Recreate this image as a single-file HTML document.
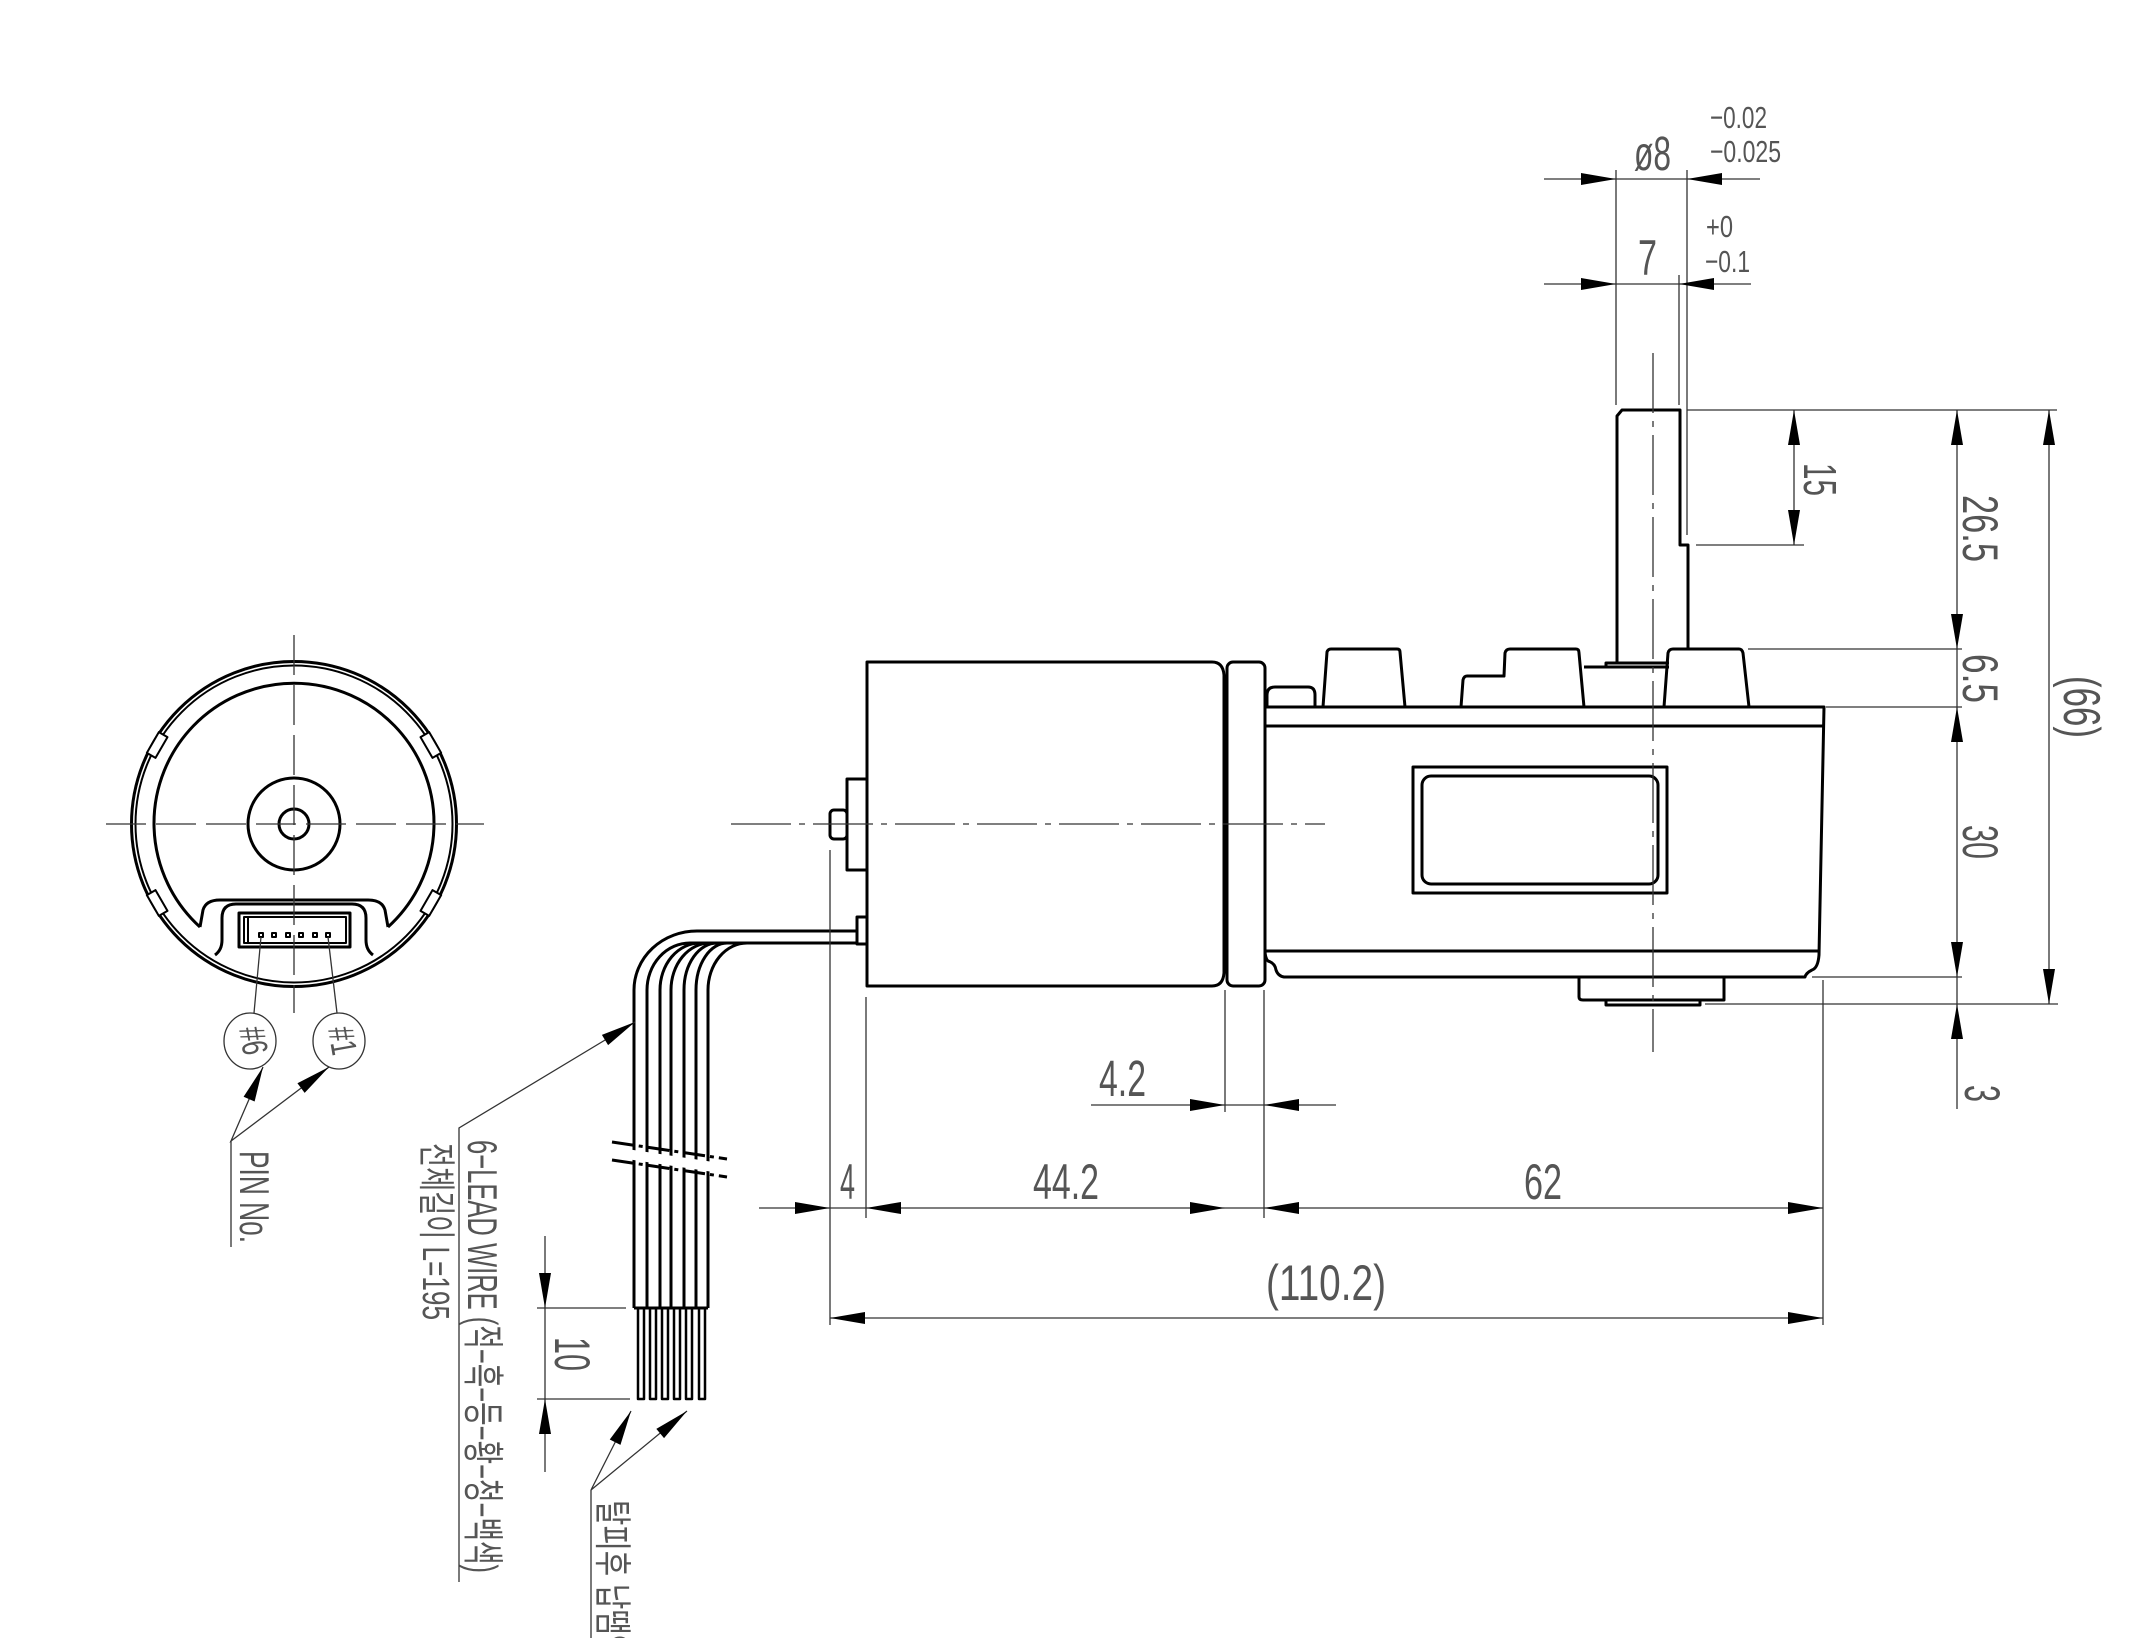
<!DOCTYPE html>
<html><head><meta charset="utf-8"><style>
html,body{margin:0;padding:0;background:#fff}
svg{display:block}
text{font-family:"Liberation Sans Narrow","Liberation Sans","Noto Sans CJK KR",sans-serif;fill:#555}
.k{font-family:"Liberation Sans","Noto Sans CJK KR",sans-serif}
</style></head><body>
<svg width="2139" height="1638" viewBox="0 0 2139 1638" xmlns="http://www.w3.org/2000/svg">
<defs>
<g id="ar"><polygon points="0,0 -35,-6 -35,6" fill="#000"/></g>
</defs>
<g fill="none" stroke="#000" stroke-width="3" stroke-linejoin="round">
<!-- end view -->
<circle cx="294" cy="824" r="162.5"/>
<circle cx="294" cy="824" r="158.5" stroke-width="2"/>
<path d="M200,927 A140,140 0 1 1 388,927"/>
<path d="M200,927 L203,910 Q206,900 220,900 H368 Q382,900 385,910 L388,927"/>
<path d="M215,955 Q222,950 222,940 V918 Q222,904 236,904 H352 Q366,904 366,918 V940 Q366,950 373,955"/>
<circle cx="294" cy="824" r="46"/>
<circle cx="294" cy="824" r="15"/>
<rect x="239" y="913" width="111" height="34"/>
<rect x="244" y="917" width="102" height="26" stroke-width="2"/>
<line x1="248" y1="917" x2="248" y2="943" stroke-width="2"/>
<g stroke-width="2">
<rect x="259" y="933" width="4" height="4"/><rect x="272" y="933" width="4" height="4"/><rect x="286" y="933" width="4" height="4"/><rect x="299" y="933" width="4" height="4"/><rect x="313" y="933" width="4" height="4"/><rect x="326" y="933" width="4" height="4"/>
<g transform="rotate(30 294 824)"><rect x="131" y="812" width="10" height="24" fill="#fff"/></g>
<g transform="rotate(-30 294 824)"><rect x="131" y="812" width="10" height="24" fill="#fff"/></g>
<g transform="rotate(150 294 824)"><rect x="131" y="812" width="10" height="24" fill="#fff"/></g>
<g transform="rotate(-150 294 824)"><rect x="131" y="812" width="10" height="24" fill="#fff"/></g>
</g>

<!-- motor -->
<path d="M867,662 H1212 Q1223,662 1224,675 V973 Q1223,986 1212,986 H867 Z"/>
<rect x="1227" y="662" width="38" height="324" rx="6"/>
<rect x="847" y="779" width="20" height="91"/>
<rect x="830" y="810" width="17" height="29" rx="4"/>
<rect x="857" y="917" width="10" height="27"/>
<!-- gearbox -->
<path d="M1265,707 H1824 L1819,955 Q1818,968 1812,970 Q1806,973 1805,977 H1284 Q1278,976 1276,970 Q1275,963 1268,961 Q1265,958 1265,950 Z"/>
<line x1="1265" y1="726" x2="1824" y2="726"/>
<line x1="1265" y1="951" x2="1818" y2="951"/>
<rect x="1413" y="767" width="254" height="126"/>
<rect x="1422" y="776" width="236" height="108" rx="9"/>
<path d="M1267,707 V695 Q1267,687 1275,687 H1308 Q1315,687 1315,695 V707"/>
<path d="M1323,707 L1327,652 Q1328,649 1331,649 H1397 Q1400,649 1400,652 L1405,707"/>
<path d="M1461,707 L1463,680 Q1464,676 1467,676 H1504 L1505,653 Q1506,649 1510,649 H1576 Q1579,649 1579,653 L1584,707"/>
<path d="M1584,667 H1669"/>
<path d="M1664,707 L1668,653 Q1669,649 1673,649 H1739 Q1742,649 1743,653 L1749,707"/>
<path d="M1617,663 V416 L1622,410 H1680 V545 H1688 V649"/>
<path d="M1606,667 V663 H1669"/>
<path d="M1579,977 V997 Q1579,1000 1583,1000 H1724 V977"/>
<path d="M1606,1000 V1005 H1700 V1000"/>
<!-- wires -->
<path d="M634,1308 V990 A63,59 0 0 1 697,931 H857"/>
<path d="M647,1308 V990 A43,47 0 0 1 690,943 H857"/>
<path d="M660,1308 V990 A40,47 0 0 1 700,943"/>
<path d="M671,1308 V990 A39,47 0 0 1 710,943"/>
<path d="M684,1308 V990 A33,47 0 0 1 717,943"/>
<path d="M696,1308 V990 A31,47 0 0 1 727,943"/>
<path d="M708,1308 V990 A39,47 0 0 1 747,943"/>
<line x1="634" y1="1308" x2="708" y2="1308"/>
<g stroke-width="2.5">
<rect x="638" y="1308" width="6" height="91"/><rect x="650" y="1308" width="6" height="91"/><rect x="662" y="1308" width="6" height="91"/><rect x="674" y="1308" width="6" height="91"/><rect x="686" y="1308" width="6" height="91"/><rect x="699" y="1308" width="6" height="91"/>
</g>
</g>
<polygon points="600,1145 740,1166 740,1176 600,1155" fill="#fff"/>
<g stroke="#000" stroke-width="3" stroke-dasharray="22,5,4,5">
<line x1="612" y1="1142" x2="727" y2="1159"/>
<line x1="612" y1="1160" x2="727" y2="1177"/>
</g>

<!-- thin lines -->
<g fill="none" stroke="#333" stroke-width="1.3">
<line x1="106" y1="824" x2="484" y2="824" stroke-dasharray="40,10"/>
<line x1="294" y1="635" x2="294" y2="1013" stroke-dasharray="40,10"/>
<line x1="731" y1="824" x2="1325" y2="824" stroke-dasharray="60,8,6,8"/>
<line x1="1653" y1="353" x2="1653" y2="1052" stroke-dasharray="60,8,6,8"/>
<!-- pin leaders -->
<line x1="261" y1="937" x2="254" y2="1013"/>
<line x1="328" y1="937" x2="337" y2="1013"/>
<ellipse cx="250" cy="1041" rx="26" ry="28"/>
<ellipse cx="339" cy="1041" rx="26" ry="28"/>
<polyline points="263,1067 231,1141 329,1067"/>
<line x1="231" y1="1141" x2="231" y2="1247"/>
<polyline points="635,1022 459,1128 459,1582"/>
<polyline points="631,1411 591,1490 687,1411"/>
<line x1="591" y1="1490" x2="591" y2="1638"/>
<!-- 10 dim -->
<line x1="545" y1="1236" x2="545" y2="1472"/>
<line x1="537" y1="1308" x2="626" y2="1308"/>
<line x1="537" y1="1399" x2="630" y2="1399"/>
<!-- top dims -->
<line x1="1544" y1="179" x2="1760" y2="179"/>
<line x1="1544" y1="284" x2="1751" y2="284"/>
<line x1="1616" y1="170" x2="1616" y2="405"/>
<line x1="1687" y1="170" x2="1687" y2="535"/>
<line x1="1679" y1="275" x2="1679" y2="405"/>
<line x1="1687" y1="410" x2="2057" y2="410"/>
<line x1="1696" y1="545" x2="1804" y2="545"/>
<line x1="1794" y1="410" x2="1794" y2="545"/>
<line x1="1748" y1="649" x2="1962" y2="649"/>
<line x1="1826" y1="707" x2="1962" y2="707"/>
<line x1="1812" y1="977" x2="1962" y2="977"/>
<line x1="1705" y1="1004" x2="2058" y2="1004"/>
<line x1="1957" y1="410" x2="1957" y2="1109"/>
<line x1="2049" y1="410" x2="2049" y2="1004"/>
<!-- bottom dims -->
<line x1="830" y1="850" x2="830" y2="1325"/>
<line x1="866" y1="997" x2="866" y2="1218"/>
<line x1="1225" y1="990" x2="1225" y2="1112"/>
<line x1="1264" y1="990" x2="1264" y2="1218"/>
<line x1="1823" y1="980" x2="1823" y2="1325"/>
<line x1="759" y1="1208" x2="1823" y2="1208"/>
<line x1="1091" y1="1105" x2="1336" y2="1105"/>
<line x1="830" y1="1318" x2="1823" y2="1318"/>
</g>
<!-- arrows -->
<use href="#ar" transform="translate(1616,179)"/>
<use href="#ar" transform="translate(1687,179) rotate(180)"/>
<use href="#ar" transform="translate(1616,284)"/>
<use href="#ar" transform="translate(1679,284) rotate(180)"/>
<use href="#ar" transform="translate(1794,410) rotate(-90)"/>
<use href="#ar" transform="translate(1794,545) rotate(90)"/>
<use href="#ar" transform="translate(1957,410) rotate(-90)"/>
<use href="#ar" transform="translate(1957,649) rotate(90)"/>
<use href="#ar" transform="translate(1957,707) rotate(-90)"/>
<use href="#ar" transform="translate(1957,977) rotate(90)"/>
<use href="#ar" transform="translate(1957,1004) rotate(-90)"/>
<use href="#ar" transform="translate(2049,410) rotate(-90)"/>
<use href="#ar" transform="translate(2049,1004) rotate(90)"/>
<use href="#ar" transform="translate(545,1308) rotate(90)"/>
<use href="#ar" transform="translate(545,1399) rotate(-90)"/>
<use href="#ar" transform="translate(830,1208)"/>
<use href="#ar" transform="translate(866,1208) rotate(180)"/>
<use href="#ar" transform="translate(1225,1208)"/>
<use href="#ar" transform="translate(1264,1208) rotate(180)"/>
<use href="#ar" transform="translate(1823,1208)"/>
<use href="#ar" transform="translate(1225,1105)"/>
<use href="#ar" transform="translate(1264,1105) rotate(180)"/>
<use href="#ar" transform="translate(830,1318) rotate(180)"/>
<use href="#ar" transform="translate(1823,1318)"/>
<use href="#ar" transform="translate(635,1022) rotate(-31)"/>
<use href="#ar" transform="translate(263,1067) rotate(-66.6)"/>
<use href="#ar" transform="translate(329,1067) rotate(-37)"/>
<use href="#ar" transform="translate(631,1411) rotate(-63)"/>
<use href="#ar" transform="translate(687,1411) rotate(-40)"/>

<!-- texts horizontal -->
<text x="1634" y="170" font-size="48" textLength="37" lengthAdjust="spacingAndGlyphs">ø8</text>
<text x="1710" y="128" font-size="31" textLength="57" lengthAdjust="spacingAndGlyphs">−0.02</text>
<text x="1710" y="162" font-size="31" textLength="71" lengthAdjust="spacingAndGlyphs">−0.025</text>
<text x="1638" y="275" font-size="50" textLength="19" lengthAdjust="spacingAndGlyphs">7</text>
<text x="1706" y="237" font-size="31" textLength="27" lengthAdjust="spacingAndGlyphs">+0</text>
<text x="1705" y="272" font-size="31" textLength="45" lengthAdjust="spacingAndGlyphs">−0.1</text>
<text x="1099" y="1096" font-size="51" textLength="47" lengthAdjust="spacingAndGlyphs">4.2</text>
<text x="840" y="1199" font-size="50" textLength="15" lengthAdjust="spacingAndGlyphs">4</text>
<text x="1033" y="1199" font-size="50" textLength="66" lengthAdjust="spacingAndGlyphs">44.2</text>
<text x="1524" y="1199" font-size="50" textLength="38" lengthAdjust="spacingAndGlyphs">62</text>
<text x="1266" y="1300" font-size="50" textLength="120" lengthAdjust="spacingAndGlyphs">(110.2)</text>
<!-- rotated texts -->
<text transform="translate(1804,463) rotate(90)" font-size="46" textLength="33" lengthAdjust="spacingAndGlyphs">15</text>
<text transform="translate(1963,495) rotate(90)" font-size="50" textLength="67" lengthAdjust="spacingAndGlyphs">26.5</text>
<text transform="translate(1963,654) rotate(90)" font-size="50" textLength="49" lengthAdjust="spacingAndGlyphs">6.5</text>
<text transform="translate(1963,825) rotate(90)" font-size="50" textLength="34" lengthAdjust="spacingAndGlyphs">30</text>
<text transform="translate(1965,1085) rotate(90)" font-size="50" textLength="17" lengthAdjust="spacingAndGlyphs">3</text>
<text transform="translate(2064,676) rotate(90)" font-size="52" textLength="62" lengthAdjust="spacingAndGlyphs">(66)</text>
<text transform="translate(555,1337) rotate(90)" font-size="50" textLength="34" lengthAdjust="spacingAndGlyphs">10</text>
<text transform="translate(240,1151) rotate(90)" font-size="42" textLength="92" lengthAdjust="spacingAndGlyphs">PIN No.</text>
<text transform="translate(239,1029) rotate(80)" font-size="36" textLength="28" lengthAdjust="spacingAndGlyphs">#6</text>
<text transform="translate(328,1029) rotate(80)" font-size="36" textLength="28" lengthAdjust="spacingAndGlyphs">#1</text>
<text class="k" transform="translate(468,1140) rotate(90)" font-size="42" textLength="433" lengthAdjust="spacingAndGlyphs">6−LEAD WIRE (적−흑−등−황−청−백색)</text>
<text class="k" transform="translate(423,1143) rotate(90)" font-size="38" textLength="177" lengthAdjust="spacingAndGlyphs">전체길이 L=195</text>
<text class="k" transform="translate(599,1500) rotate(90)" font-size="38" textLength="160" lengthAdjust="spacingAndGlyphs">탈피후 납땜인</text>
</svg>
</body></html>
